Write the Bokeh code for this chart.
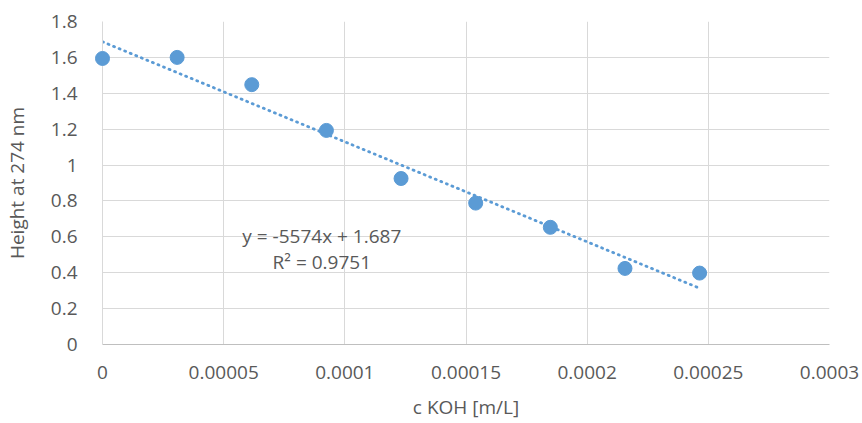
from bokeh.plotting import figure
from bokeh.models import Range1d, FixedTicker, CustomJSTickFormatter, Label
from bokeh.embed import file_html
from bokeh.resources import INLINE

# Data
c_koh = [0.0, 0.0000308, 0.0000616, 0.0000924, 0.0001232, 0.000154, 0.0001848, 0.0002156, 0.0002464]
height = [1.594, 1.600, 1.448, 1.193, 0.925, 0.788, 0.653, 0.424, 0.398]
trend_slope = -5574
trend_intercept = 1.687
equation_text = "y = -5574x + 1.687"
r2_text = "R² = 0.9751"
x_ticks = [0, 0.00005, 0.0001, 0.00015, 0.0002, 0.00025, 0.0003]
y_ticks = [0, 0.2, 0.4, 0.6, 0.8, 1.0, 1.2, 1.4, 1.6, 1.8]
x_label = "c KOH [m/L]"
y_label = "Height at 274 nm"

FONT = "Open Sans"
BLUE = "#5B9BD5"
GRID = "#D9D9D9"
TXT = "#595959"
FS = "19px"

p = figure(width=862, height=423, output_backend="svg", toolbar_location=None,
           x_range=Range1d(0, 0.0003), y_range=Range1d(0, 1.8),
           min_border_left=102, min_border_right=33, min_border_top=21, min_border_bottom=79)
p.outline_line_color = None
p.background_fill_color = "white"
p.border_fill_color = "white"

# Grid
for g in (p.xgrid, p.ygrid):
    g.grid_line_color = GRID
    g.grid_line_width = 1
p.xgrid.ticker = FixedTicker(ticks=x_ticks)
p.ygrid.ticker = FixedTicker(ticks=y_ticks)

# Axes
p.xaxis.ticker = FixedTicker(ticks=x_ticks)
p.yaxis.ticker = FixedTicker(ticks=y_ticks)
p.xaxis.formatter = CustomJSTickFormatter(code="var s = tick.toFixed(5); s = s.replace(/0+$/, '').replace(/\\.$/, ''); return s;")
p.yaxis.formatter = CustomJSTickFormatter(code="var s = tick.toFixed(1); s = s.replace(/\\.0$/, ''); return s;")
for ax in (p.xaxis, p.yaxis):
    ax.axis_line_color = GRID
    ax.major_tick_line_color = None
    ax.minor_tick_line_color = None
    ax.major_label_text_font = FONT
    ax.major_label_text_font_size = FS
    ax.major_label_text_color = TXT
    ax.axis_label_text_font = FONT
    ax.axis_label_text_font_size = FS
    ax.axis_label_text_color = TXT
    ax.axis_label_text_font_style = "normal"
p.xaxis.axis_line_color = "#BFBFBF"
p.xaxis.major_label_standoff = 15
p.yaxis.major_label_standoff = 19
p.xaxis.axis_label = x_label
p.yaxis.axis_label = y_label
p.xaxis.axis_label_standoff = 12
p.yaxis.axis_label_standoff = 18

# Trendline
tx = [min(c_koh), max(c_koh)]
ty = [trend_slope * v + trend_intercept for v in tx]
p.line(tx, ty, line_color=BLUE, line_width=2.8, line_dash="1 5", line_cap="round")

# Points
p.scatter(c_koh, height, size=14, marker="circle", fill_color=BLUE, line_color=BLUE, level="overlay")

# Equation labels
p.add_layout(Label(x=0.0000905, y=0.607, text=equation_text, text_align="center",
                   text_baseline="middle", text_font=FONT, text_font_size=FS, text_color=TXT))
p.add_layout(Label(x=0.0000905, y=0.457, text=r2_text, text_align="center",
                   text_baseline="middle", text_font=FONT, text_font_size=FS, text_color=TXT))

open("out.html", "w").write(file_html(p, INLINE))
